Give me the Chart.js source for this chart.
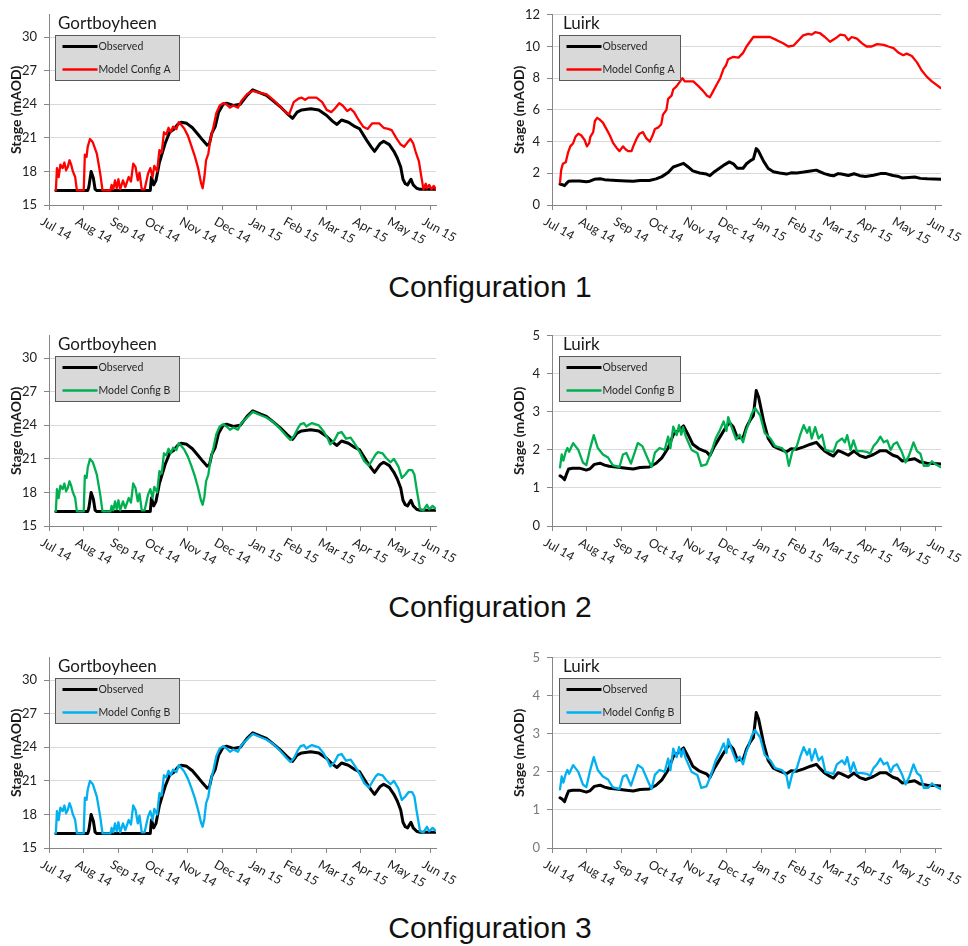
<!DOCTYPE html>
<html>
<head>
<meta charset="utf-8">
<script src="https://cdn.jsdelivr.net/npm/chart.js@4.4.1/dist/chart.umd.min.js"></script>
<style>
html,body{margin:0;padding:0;background:#fff;}
#page{position:relative;width:968px;height:946px;overflow:hidden;background:#fff;}
canvas{position:absolute;}
.cap{position:absolute;left:0;width:980px;text-align:center;font-family:'Liberation Sans',Arial,sans-serif;font-size:30px;color:#111;line-height:34px;}
</style>
</head>
<body>
<div id="page">
  <canvas id="g1" width="475" height="250" style="left:0;top:0"></canvas>
  <canvas id="l1" width="468" height="250" style="left:500px;top:0"></canvas>
  <div class="cap" style="top:270px">Configuration 1</div>
  <canvas id="g2" width="475" height="250" style="left:0;top:321px"></canvas>
  <canvas id="l2" width="468" height="250" style="left:500px;top:321px"></canvas>
  <div class="cap" style="top:590px">Configuration 2</div>
  <canvas id="g3" width="475" height="250" style="left:0;top:643px"></canvas>
  <canvas id="l3" width="468" height="250" style="left:500px;top:643px"></canvas>
  <div class="cap" style="top:911px">Configuration 3</div>
</div>
<script>
// ---- tick labels ----
const monthLabels = ['Jul 14','Aug 14','Sep 14','Oct 14','Nov 14','Dec 14','Jan 15','Feb 15','Mar 15','Apr 15','May 15','Jun 15'];
const gortTicks = [15, 18, 21, 24, 27, 30];
const luirkTicksWide = [0, 2, 4, 6, 8, 10, 12];
const luirkTicksNarrow = [0, 1, 2, 3, 4, 5];

// ---- data: [day since 1 Jul 2014 (equal-month scale), stage mAOD] ----
const gortObserved = [[6,16.3],[34,16.3],[35,16.6],[37,18.0],[39,17.4],[40.5,16.4],[42,16.3],[89,16.3],[90,17.5],[92,16.8],[94,17.2],[97,18.8],[102,20.5],[106,21.5],[110,21.8],[113,22.2],[116,22.4],[121,22.3],[126,21.9],[131,21.3],[135,20.8],[139,20.35],[141,20.5],[143,21.4],[146,22.0],[149,23.3],[153,24.0],[156,24.1],[162,23.9],[168,24.0],[174,24.8],[179,25.3],[186,25.0],[191,24.8],[197,24.3],[203,23.8],[209,23.2],[214,22.75],[218,23.3],[222,23.5],[230,23.6],[237,23.5],[244,23.0],[249,22.5],[253,22.2],[257,22.6],[263,22.4],[269,22.0],[273,21.8],[279,20.8],[283,20.2],[286,19.8],[291,20.5],[294,20.7],[299,20.4],[303,19.8],[306,19.2],[309,18.4],[311,17.3],[313,16.9],[315,16.8],[318,17.3],[320,16.8],[323,16.5],[326,16.4],[340,16.4]];

const gortModelA = [[6,16.3],[7,18.3],[8.5,17.5],[10,18.6],[12,18.3],[13.5,18.8],[15,18.1],[16.5,18.4],[18,19.0],[19.5,18.6],[21,18.0],[23,17.5],[24.5,16.3],[30.5,16.3],[31.5,19.5],[33,19.3],[34,20.2],[36,20.9],[38.5,20.6],[42,19.6],[45,17.8],[47,16.3],[54,16.3],[55,16.8],[56.5,16.4],[58,17.2],[59.5,16.5],[61,17.3],[62.5,16.4],[65,17.2],[67,16.6],[70,17.5],[72,17.1],[74,18.7],[76,18.4],[78,17.2],[79.5,17.9],[81.5,16.4],[84,16.4],[87,17.8],[89,18.3],[91,17.5],[92.5,18.5],[95,18.0],[97,19.9],[99,19.7],[101,21.5],[103,21.3],[105,21.9],[107,21.5],[109,22.0],[112,21.8],[114,22.4],[116,22.2],[119,21.8],[122,21.2],[125,20.3],[128,19.4],[131,18.3],[133.5,17.0],[135,16.5],[136.5,17.5],[138,19.0],[140,19.6],[142,21.0],[144.5,22.0],[147,23.2],[150,23.9],[153,24.1],[156,24.0],[159,23.7],[162,23.9],[166,23.7],[169,24.3],[174,24.9],[179,25.2],[186,25.0],[191,24.9],[197,24.4],[203,23.8],[209,23.2],[211,23.1],[215,24.2],[219,24.5],[222,24.6],[225,24.4],[228,24.6],[235,24.6],[240,24.2],[244,23.5],[248,23.3],[251,23.6],[255,24.1],[258,23.9],[262,23.4],[265,23.6],[268,23.3],[272,22.6],[276,22.0],[280,21.8],[284,22.3],[290,22.3],[294,21.9],[298,21.8],[301,21.7],[305,21.0],[309,20.4],[312,20.2],[315,20.6],[317.5,20.9],[320,20.5],[322,19.8],[325,18.9],[327,17.6],[329,16.4],[331,16.9],[332,16.5],[334,16.8],[336,16.4],[338,16.7],[340,16.4]];

const gortModelB = [[6,16.3],[7,18.3],[8.5,17.5],[10,18.6],[12,18.3],[13.5,18.8],[15,18.1],[16.5,18.4],[18,19.0],[19.5,18.6],[21,18.0],[23,17.5],[24.5,16.3],[30.5,16.3],[31.5,19.5],[33,19.3],[34,20.2],[36,21.0],[38.5,20.7],[42,19.6],[45,17.8],[47,16.3],[54,16.3],[55,16.8],[56.5,16.4],[58,17.2],[59.5,16.5],[61,17.3],[62.5,16.4],[65,17.2],[67,16.6],[70,17.5],[72,17.1],[74,18.8],[76,18.4],[78,17.2],[79.5,17.9],[81.5,16.4],[84,16.4],[87,17.8],[89,18.3],[91,17.5],[92.5,18.5],[95,18.0],[97,19.9],[99,19.7],[101,21.5],[103,21.3],[105,21.9],[107,21.5],[109,22.0],[112,21.8],[114,22.4],[116,22.2],[119,21.8],[122,21.2],[125,20.4],[128,19.5],[131,18.4],[133.5,17.3],[135,16.9],[136.5,17.6],[138,19.0],[140,19.6],[142,21.0],[144.5,22.0],[147,23.2],[150,23.9],[153,24.1],[156,23.9],[159,23.6],[162,23.8],[166,23.6],[169,24.2],[174,24.7],[179,25.2],[186,24.9],[191,24.7],[197,24.3],[203,23.7],[209,23.0],[212,22.7],[215,23.0],[219,23.8],[221,24.1],[224,24.2],[226,23.9],[229,24.1],[231,24.2],[237,24.0],[241,23.5],[245,22.8],[247,22.3],[251,22.7],[254,23.3],[257,23.4],[261,22.8],[265,22.9],[269,22.3],[273,21.6],[277,20.8],[281,20.4],[284,20.9],[287,21.4],[289,21.6],[293,21.5],[296,21.1],[300,20.7],[303,21.0],[307,20.3],[310,19.3],[313,19.6],[316,20.0],[319,20.0],[321,19.6],[323,18.3],[326,16.5],[329,16.4],[332,16.9],[334,16.5],[337,16.8],[340,16.5]];

const luirkObserved = [[7,1.32],[9,1.28],[11,1.22],[12.5,1.35],[14.5,1.5],[18,1.52],[24,1.52],[30,1.47],[33,1.5],[37,1.62],[42,1.65],[46,1.6],[50,1.57],[56,1.55],[65,1.52],[71,1.5],[77,1.54],[85,1.55],[91,1.65],[96,1.79],[101.5,2.05],[106,2.4],[110,2.5],[115,2.63],[119,2.4],[123,2.15],[129,2.02],[135,1.95],[138,1.85],[142,2.1],[147,2.35],[151,2.55],[155,2.72],[158.5,2.6],[162,2.32],[167,2.32],[170,2.6],[173.5,2.8],[176,2.9],[178.5,3.56],[180.5,3.4],[185,2.75],[189,2.3],[193.5,2.1],[199,2.02],[205,1.95],[209,2.03],[214,2.02],[220,2.08],[226,2.15],[231,2.2],[234,2.1],[238,1.98],[243,1.88],[246,1.84],[250,1.98],[253,1.95],[259,1.86],[264,1.97],[269,1.85],[274,1.8],[281,1.88],[287,1.98],[292,1.98],[298,1.86],[302,1.82],[306,1.71],[312,1.74],[317,1.77],[322,1.68],[328,1.65],[334,1.64],[340,1.63]];

const luirkModelA = [[7,1.41],[8,2.2],[9.5,2.6],[12,2.7],[14,3.3],[16,3.7],[18.5,3.9],[20.5,4.3],[23,4.5],[25.5,4.4],[28.5,4.1],[30.5,3.7],[32.5,3.9],[33.5,4.3],[36,4.6],[37.5,5.3],[39.5,5.5],[41.5,5.4],[44.5,5.2],[47.5,4.8],[50.5,4.4],[53.5,3.9],[56.5,3.6],[59,3.4],[62,3.7],[64.5,3.5],[66.5,3.4],[69.5,3.4],[71,3.7],[74,4.2],[76.5,4.5],[79.5,4.6],[82.5,4.2],[85.5,4.0],[88,4.4],[90,4.8],[93,4.9],[95.5,5.1],[97,5.7],[100,6.0],[101.5,6.7],[104.5,6.9],[106,7.3],[109,7.5],[112,7.8],[114,8.0],[116,7.8],[120.5,7.8],[123.5,7.8],[128,7.5],[132,7.2],[135.5,6.9],[138,6.8],[141,7.2],[144,7.6],[147,8.0],[150,8.6],[152,8.8],[154,9.2],[158.5,9.35],[163,9.3],[167,9.6],[170,10.0],[173,10.3],[176,10.6],[179,10.6],[185,10.6],[190.5,10.6],[196.5,10.4],[202,10.2],[206.5,10.0],[211,10.05],[215.5,10.4],[219.5,10.7],[224,10.8],[227,10.75],[230,10.9],[234,10.85],[238.5,10.6],[243,10.3],[247.5,10.5],[252,10.75],[256,10.7],[259,10.4],[262,10.6],[266.5,10.5],[271,10.2],[275,10.0],[279.5,10.0],[284,10.15],[290,10.1],[294,10.0],[298.5,9.9],[303,9.6],[307,9.45],[310,9.55],[314.5,9.4],[319,9.0],[323,8.5],[327.5,8.1],[332,7.8],[339.5,7.4]];

const luirkModelB = [[7,1.54],[8.5,1.88],[10,1.72],[12,1.95],[13.5,2.05],[15,1.95],[18.5,2.18],[23,2.0],[27,1.67],[30,1.6],[33,2.0],[36.5,2.39],[40,2.05],[44.5,1.88],[49,1.8],[53,1.6],[59,1.55],[62,1.88],[65,1.92],[69,1.64],[75,2.18],[79,2.1],[84,1.75],[87,1.55],[90,1.93],[94,2.05],[98.5,2.0],[101.5,2.35],[103.5,2.05],[106,2.61],[109,2.39],[111,2.65],[113,2.4],[114.5,2.6],[117,2.35],[122,2.0],[127,1.92],[130.5,1.58],[135,1.62],[139,1.92],[143,2.3],[146.5,2.5],[150,2.75],[152.5,2.5],[154,2.86],[157,2.6],[161,2.27],[164,2.4],[167,2.2],[169.5,2.5],[172,2.7],[174.5,2.95],[177.5,3.1],[182,2.9],[186,2.44],[191,2.3],[195,2.1],[201,2.05],[205,1.9],[207,1.58],[210,1.95],[214,2.1],[217,2.4],[220,2.65],[223,2.45],[225,2.6],[227,2.3],[230,2.6],[233,2.3],[236,2.4],[239,2.0],[243,1.97],[246,1.95],[249,2.2],[253.5,2.3],[256,2.2],[258,2.39],[261,2.0],[263.5,2.25],[266.5,1.97],[271,1.97],[275,1.95],[278,1.9],[281,2.1],[284,2.2],[287,2.35],[290,2.2],[293,2.25],[296,2.0],[298.5,2.15],[301.5,2.2],[306,1.93],[309,1.67],[312,1.85],[316,2.2],[319,1.97],[322,1.9],[325,1.58],[329,1.58],[332,1.7],[335,1.63],[339.5,1.55]];

// ---- styling constants ----
const MONTH = 335 / 11;
const AXIS = '#868686';
const GRID = '#d9d9d9';
const FONT = 'Lato, "Open Sans", sans-serif';

const toXY = arr => arr.map(p => ({ x: p[0], y: p[1] }));

const slantLabels = {
  id: 'slantLabels',
  afterDraw(chart) {
    const xs = chart.scales.x, ctx = chart.ctx;
    ctx.save();
    ctx.font = '12.5px ' + FONT;
    ctx.fillStyle = '#222';
    ctx.textAlign = 'left';
    ctx.textBaseline = 'top';
    monthLabels.forEach((lab, i) => {
      const px = xs.getPixelForValue(i * MONTH);
      ctx.save();
      ctx.translate(px - 4, xs.top + 10);
      ctx.rotate(30 * Math.PI / 180);
      ctx.fillText(lab, 0, 0);
      ctx.restore();
    });
    ctx.restore();
  }
};

const boxLegend = {
  id: 'boxLegend',
  afterDraw(chart, args, o) {
    const ctx = chart.ctx, a = chart.chartArea;
    ctx.save();
    ctx.font = '17px ' + FONT;
    ctx.fillStyle = '#1a1a1a';
    ctx.textBaseline = 'alphabetic';
    ctx.textAlign = 'left';
    ctx.fillText(o.title, a.left + o.titleDx, a.top + 14);
    const bx = Math.round(a.left + o.dx) + 0.5, by = Math.round(a.top + 20) + 0.5, bw = o.w, bh = 45;
    ctx.fillStyle = '#d9d9d9';
    ctx.fillRect(bx, by, bw, bh);
    ctx.strokeStyle = '#595959';
    ctx.lineWidth = 1;
    ctx.strokeRect(bx, by, bw, bh);
    ctx.font = '10.5px ' + FONT;
    ctx.textBaseline = 'middle';
    chart.data.datasets.forEach((ds, i) => {
      const y = by + 11 + i * 23;
      ctx.beginPath();
      ctx.moveTo(bx + 7, y);
      ctx.lineTo(bx + 42, y);
      ctx.strokeStyle = ds.borderColor;
      ctx.lineWidth = i === 0 ? 3 : 2.5;
      ctx.stroke();
      ctx.fillStyle = '#262626';
      ctx.fillText(ds.label, bx + 43, y);
    });
    ctx.restore();
  }
};

function makePanel(p) {
  const isG = p.kind === 'G';
  const W = isG ? 475 : 468;
  const areaLeft = isG ? 49 : 52;
  const areaRight = isG ? 436 : 441;
  const yMin = p.yTicks[0];
  new Chart(document.getElementById(p.id), {
    type: 'line',
    data: {
      datasets: [
        { label: 'Observed', data: toXY(p.obs), borderColor: '#000000', borderWidth: 3, order: 1 },
        { label: p.label, data: toXY(p.model), borderColor: p.color, borderWidth: 2.3, order: 0 }
      ]
    },
    options: {
      responsive: false,
      animation: false,
      events: [],
      elements: {
        point: { radius: 0 },
        line: { tension: 0, borderJoinStyle: 'round', borderCapStyle: 'round', fill: false }
      },
      layout: { padding: { top: 11, right: W - areaRight, left: 0, bottom: 0 } },
      plugins: {
        legend: { display: false },
        tooltip: { enabled: false },
        boxLegend: isG ? { title: p.site, titleDx: 9, dx: 6, w: 124 } : { title: p.site, titleDx: 11, dx: 7, w: 121 }
      },
      scales: {
        x: {
          type: 'linear', min: 0, max: 340,
          afterBuildTicks: s => { s.ticks = monthLabels.map((_, i) => ({ value: i * MONTH })); },
          afterFit: s => { s.height = 45; },
          ticks: { display: false },
          grid: { drawOnChartArea: false, drawTicks: true, tickLength: 5, color: AXIS },
          border: { color: AXIS, width: 1 }
        },
        y: {
          type: 'linear', min: yMin, max: p.yMax,
          afterBuildTicks: s => { s.ticks = p.yTicks.map(v => ({ value: v })); },
          afterFit: s => { s.width = areaLeft; },
          ticks: { font: { family: FONT, size: 13 }, color: p.tickColor || '#222', padding: 7 },
          grid: {
            color: c => (c.tick && c.tick.value === yMin) ? 'rgba(0,0,0,0)' : GRID,
            tickColor: AXIS, tickLength: 5, lineWidth: 1
          },
          border: { color: AXIS, width: 1 },
          title: {
            display: true, text: 'Stage (mAOD)', color: '#1a1a1a',
            font: { family: FONT, size: 14, weight: 'bold' },
            padding: { top: isG ? 8 : 11, bottom: 0 }
          }
        }
      }
    },
    plugins: [slantLabels, boxLegend]
  });
}

const panels = [
  { id: 'g1', kind: 'G', site: 'Gortboyheen', obs: gortObserved, model: gortModelA, label: 'Model Config A', color: '#ff0000', yTicks: gortTicks, yMax: 32 },
  { id: 'l1', kind: 'L', site: 'Luirk', obs: luirkObserved, model: luirkModelA, label: 'Model Config A', color: '#ff0000', yTicks: luirkTicksWide, yMax: 12 },
  { id: 'g2', kind: 'G', site: 'Gortboyheen', obs: gortObserved, model: gortModelB, label: 'Model Config B', color: '#00b050', yTicks: gortTicks, yMax: 32 },
  { id: 'l2', kind: 'L', site: 'Luirk', obs: luirkObserved, model: luirkModelB, label: 'Model Config B', color: '#00b050', yTicks: luirkTicksNarrow, yMax: 5 },
  { id: 'g3', kind: 'G', site: 'Gortboyheen', obs: gortObserved, model: gortModelB, label: 'Model Config B', color: '#00b0f0', yTicks: gortTicks, yMax: 32 },
  { id: 'l3', kind: 'L', site: 'Luirk', obs: luirkObserved, model: luirkModelB, label: 'Model Config B', color: '#00b0f0', yTicks: luirkTicksNarrow, yMax: 5, tickColor: '#7a7a7a' }
];
panels.forEach(makePanel);
</script>
</body>
</html>
